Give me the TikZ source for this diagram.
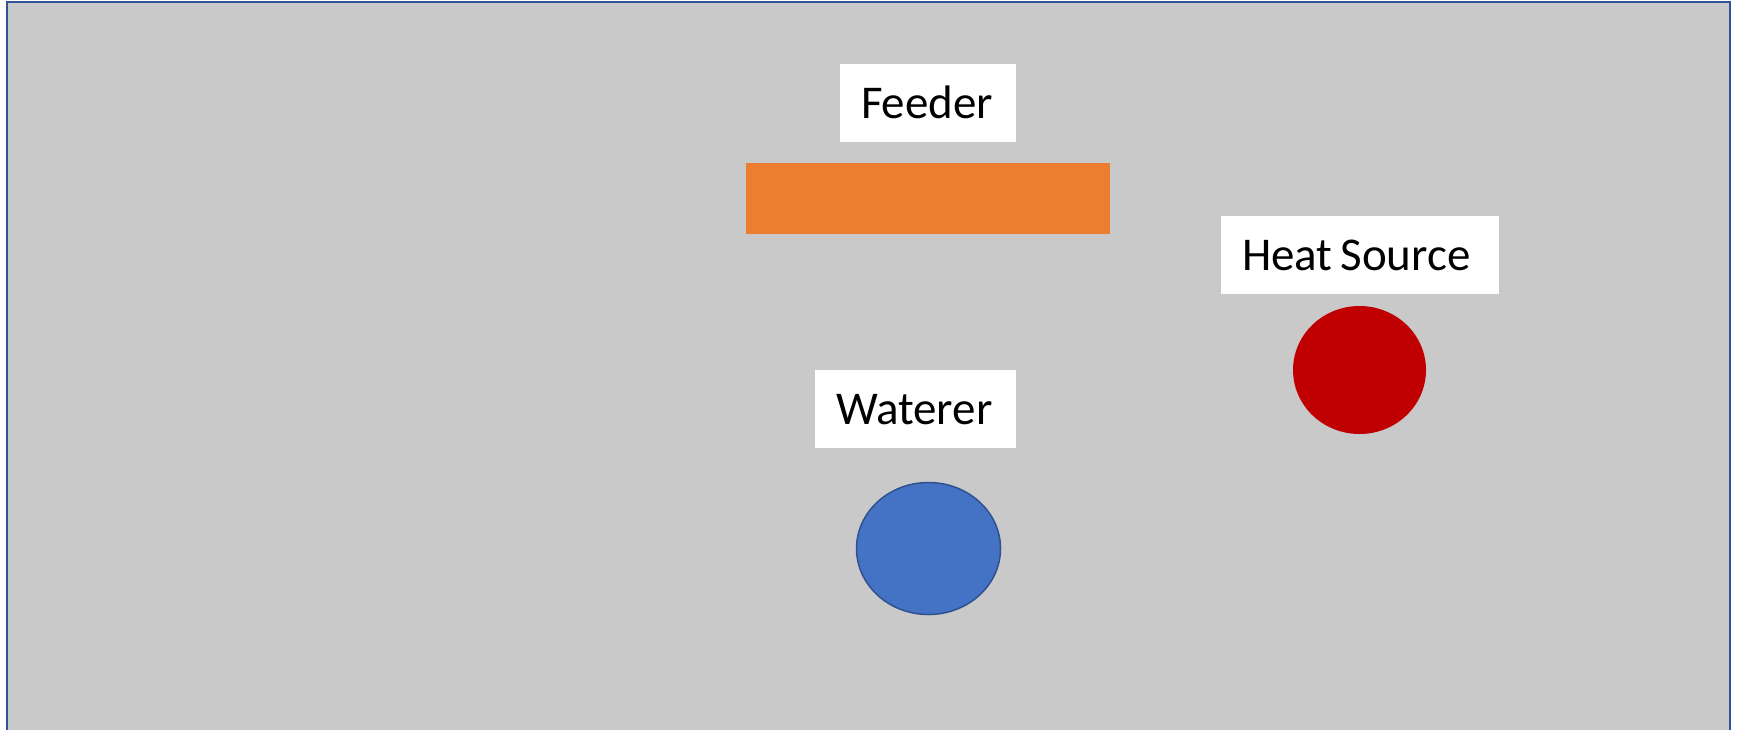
\documentclass[tikz,border=0pt]{standalone}
\usepackage{fontspec}
\setmainfont{Carlito}
\usepackage{tikz}
\usetikzlibrary{positioning}
\usetikzlibrary{shapes.geometric}

\definecolor{pengray}{HTML}{C9C9C9}
\definecolor{penblue}{HTML}{2F5597}
\definecolor{feedorange}{HTML}{ED7D31}
\definecolor{waterblue}{HTML}{4472C4}
\definecolor{waterline}{HTML}{2F528F}
\definecolor{heatred}{HTML}{C00000}

\tikzset{
    labelbox/.style={rectangle, fill=white, inner xsep=21pt, inner ysep=0pt,
        minimum height=78pt, text height=30pt, text depth=0pt, align=left,
        font=\fontsize{47}{56}\selectfont},
    spot/.style={ellipse, inner sep=0pt}
}

\begin{document}
\begin{tikzpicture}[x=1pt, y=-1pt]

\useasboundingbox (0,0) rectangle (1750,729);
\clip (0,0) rectangle (1750,729);

% Pen
\draw[penblue, line width=2.5pt, fill=pengray] (7,2) rectangle (1730,740);

% Feeder
\node[labelbox, text width=134pt] (feederlabel) at (928,103) {Feeder};
\node[rectangle, fill=feedorange, minimum width=364pt, minimum height=71pt, inner sep=0pt] (feeder) at (928,198.5) {};

% Waterer
\node[labelbox, text width=159pt] (watererlabel) at (915.5,409) {Waterer};
\node[spot, fill=waterblue, draw=waterline, line width=1.5pt, minimum width=144pt, minimum height=132pt] (waterer) at (928.5,548.5) {};

% Heat source
\node[labelbox, text width=236pt] (heatlabel) at (1360,255) {\mbox{Heat\hspace{8pt}Source}};
\node[spot, fill=heatred, minimum width=133pt, minimum height=128pt] (heat) at (1359.5,370) {};

\end{tikzpicture}
\end{document}
